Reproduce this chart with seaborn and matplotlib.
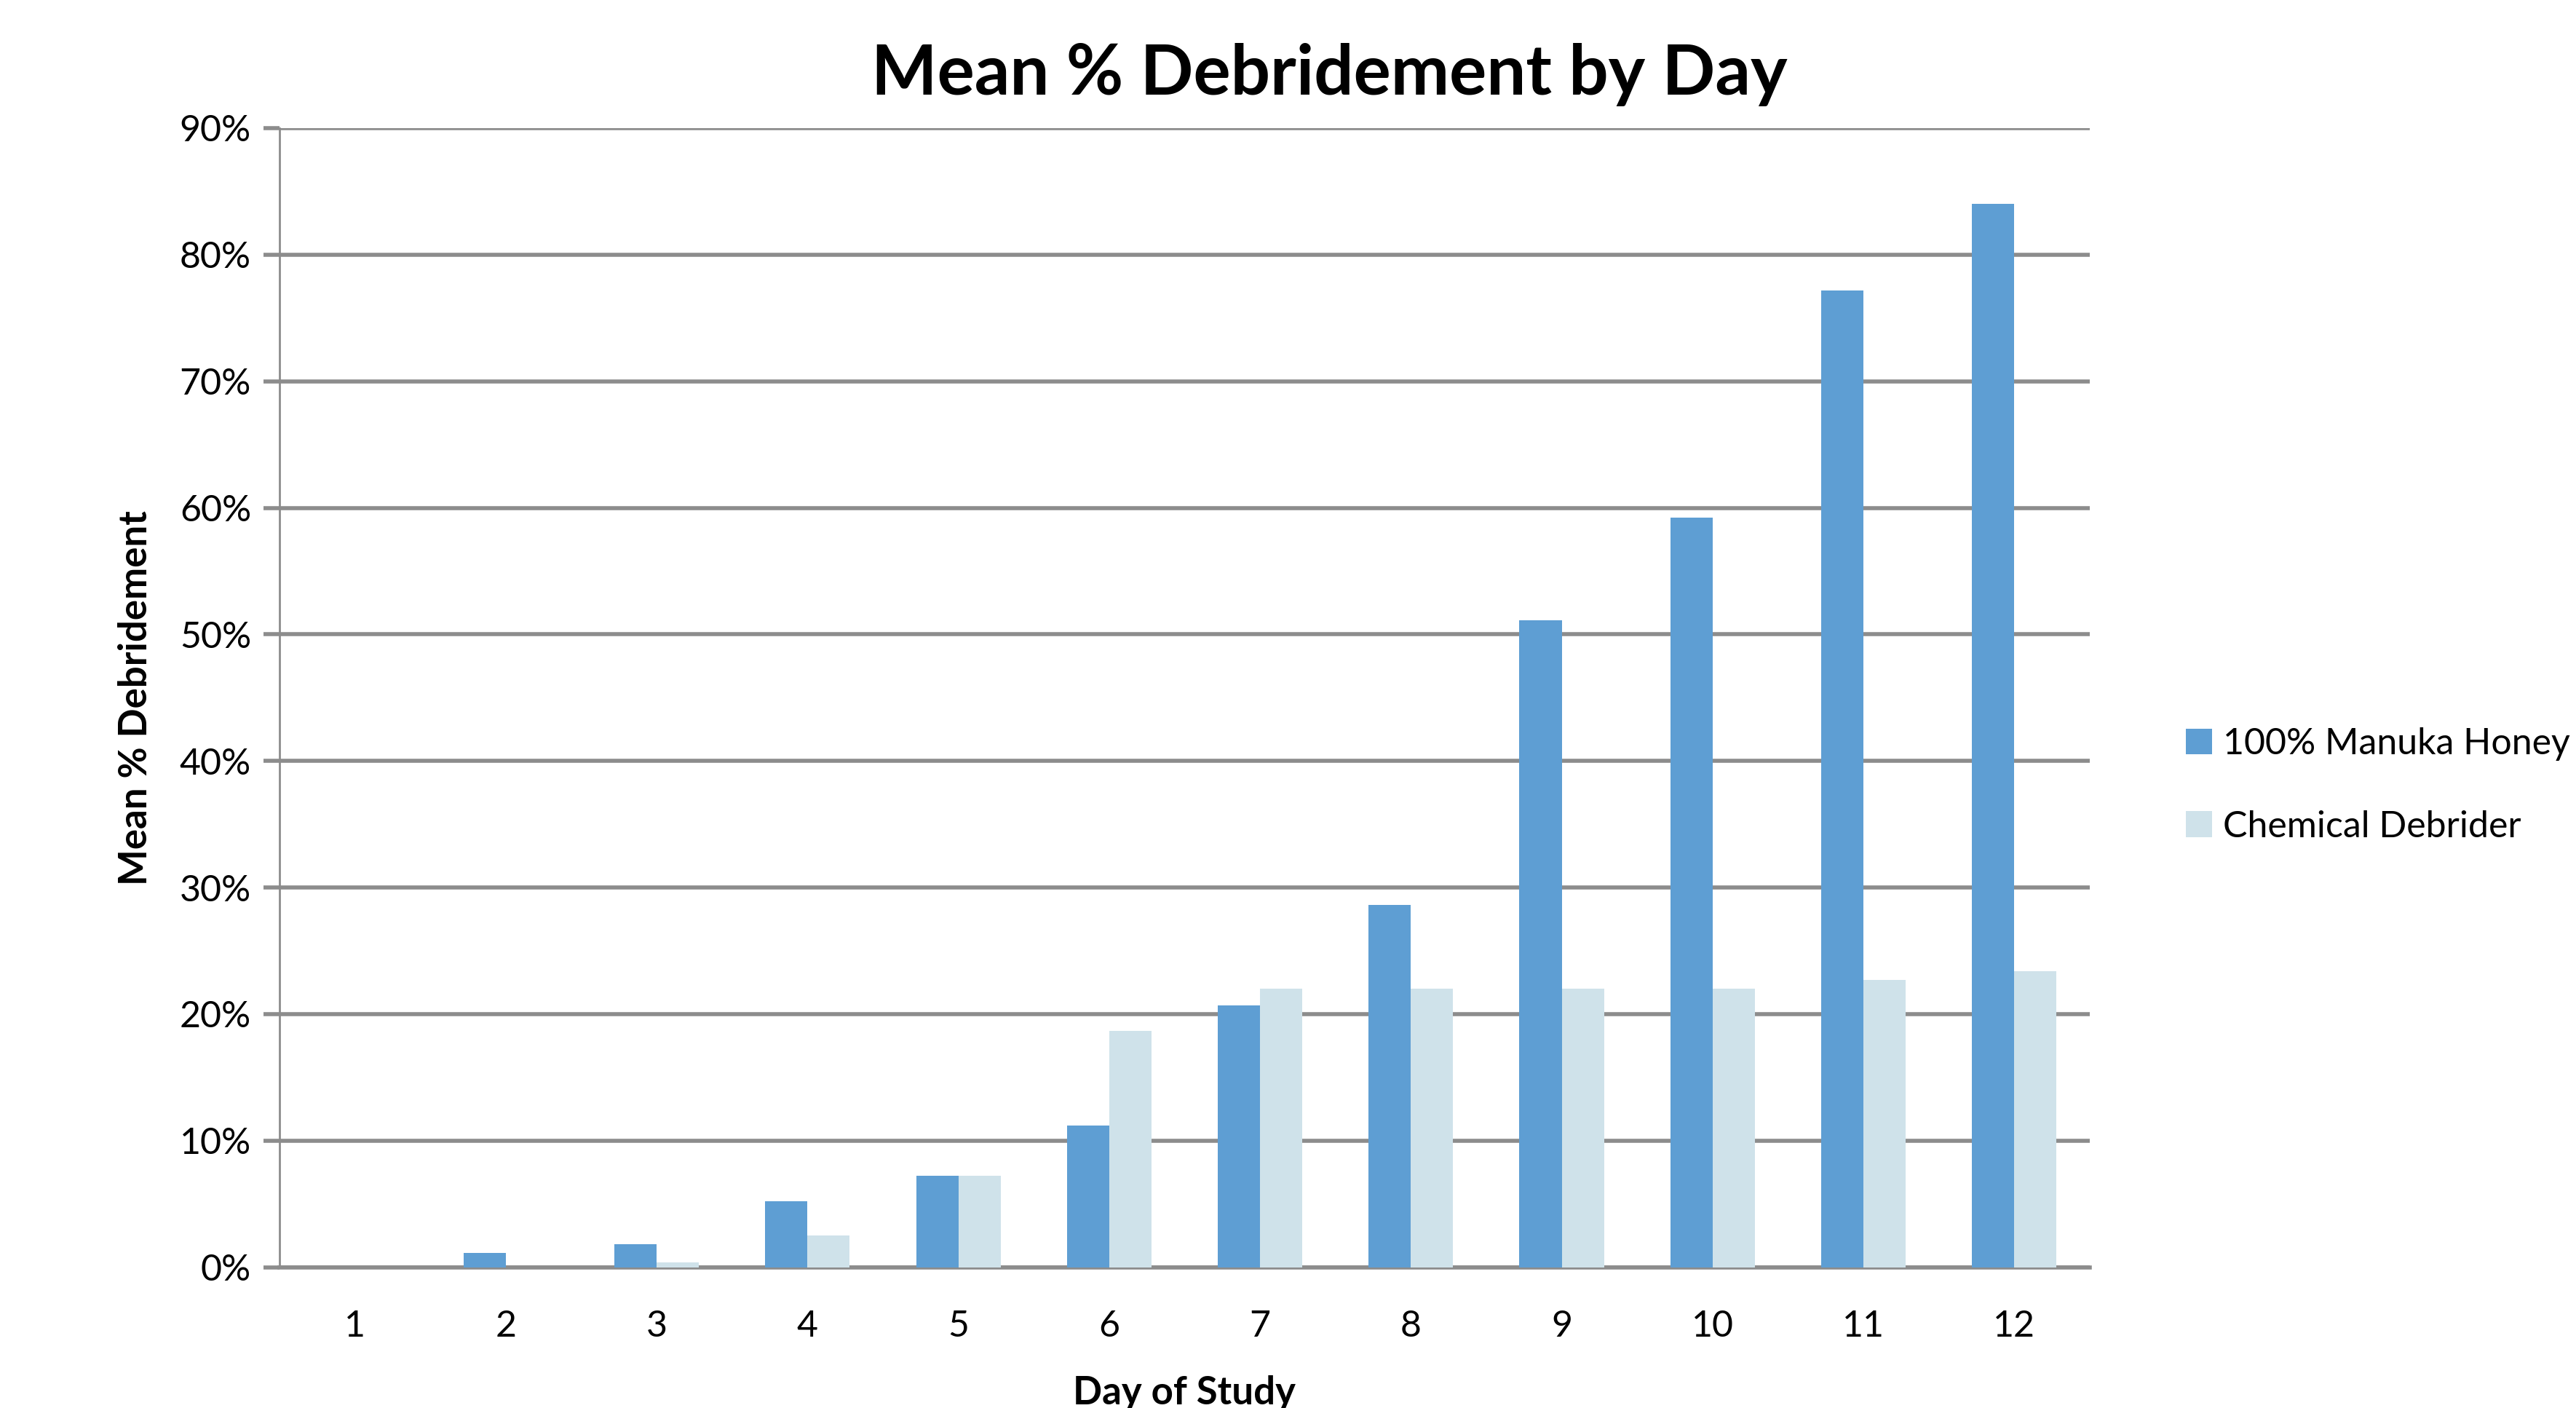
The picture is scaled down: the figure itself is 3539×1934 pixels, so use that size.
import pandas as pd
import matplotlib
matplotlib.use('Agg')
import matplotlib.pyplot as plt
import seaborn as sns
from matplotlib.ticker import PercentFormatter

sns.set_style('white')
plt.rcParams['font.family'] = ['Lato', 'DejaVu Sans']
plt.rcParams['text.color'] = 'black'
plt.rcParams['xtick.color'] = 'black'
plt.rcParams['ytick.color'] = 'black'
plt.rcParams['axes.labelcolor'] = 'black'

days = ['1', '2', '3', '4', '5', '6', '7', '8', '9', '10', '11', '12']
manuka = [0.0, 1.1, 1.8, 5.2, 7.2, 11.2, 20.7, 28.6, 51.1, 59.2, 77.2, 84.0]
chemical = [0.0, 0.0, 0.4, 2.5, 7.2, 18.7, 22.0, 22.0, 22.0, 22.0, 22.7, 23.4]
series = ['100% Manuka Honey', 'Chemical Debrider']
colors = ['#5E9ED3', '#CFE2EA']

df = pd.DataFrame({
    'Day': days * 2,
    'Value': manuka + chemical,
    'Treatment': [series[0]] * len(days) + [series[1]] * len(days),
})

fig = plt.figure(figsize=(17.695, 9.67), dpi=200)
ax = fig.add_axes([0.1085, 0.1, 0.7027, 0.809])

sns.barplot(data=df, x='Day', y='Value', hue='Treatment', order=days,
            hue_order=series, palette=colors, width=0.56, saturation=1,
            linewidth=0, ax=ax, zorder=3)

ax.set_ylim(0, 90)
ax.set_xlim(-0.5, 11.5)
ax.set_yticks(range(0, 91, 10))
ax.yaxis.set_major_formatter(PercentFormatter(decimals=0))
ax.grid(axis='y', color='#8C8C8C', linewidth=2.0, zorder=0)
ax.set_axisbelow(True)

for s in ['top', 'right']:
    ax.spines[s].set_visible(False)
ax.spines['left'].set_color('#8C8C8C')
ax.spines['left'].set_linewidth(1.0)
ax.spines['bottom'].set_color('#8C8C8C')
ax.spines['bottom'].set_linewidth(2.0)

ax.tick_params(axis='y', length=8, width=2.0, color='#8C8C8C', labelsize=18, pad=6, left=True)
ax.tick_params(axis='x', length=0, labelsize=18, pad=21)

ax.set_xlabel('Day of Study', fontsize=19, fontweight='bold', labelpad=16)
ax.set_ylabel('Mean % Debridement', fontsize=19, fontweight='bold', labelpad=13)

fig.text(0.516, 0.947, 'Mean % Debridement by Day', fontsize=34.5, fontweight='bold',
         ha='center', va='center')

leg = ax.legend(loc='center left', bbox_to_anchor=(1.035, 0.423), frameon=False,
                fontsize=18, handlelength=0.72, handleheight=0.72,
                handletextpad=0.3, labelspacing=1.35)

plt.savefig('out.png', dpi=200)
plt.close()
